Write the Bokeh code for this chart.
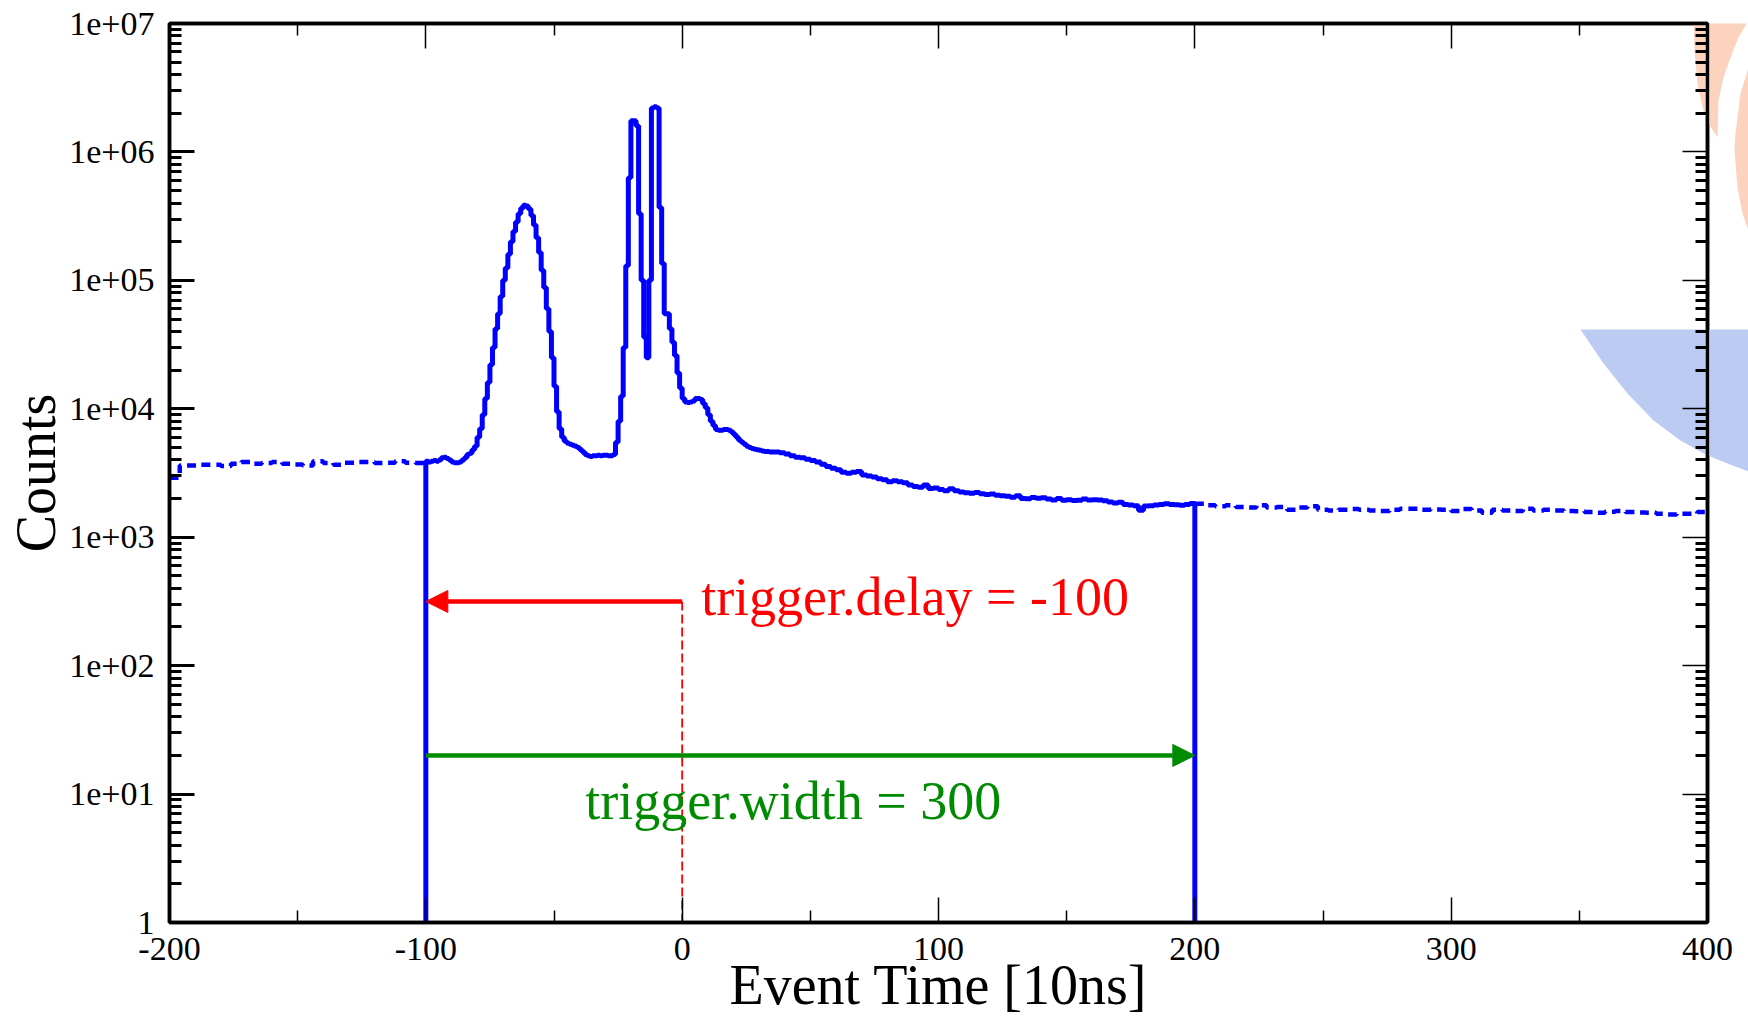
from bokeh.plotting import figure
from bokeh.layouts import row
from bokeh.models import (Range1d, FixedTicker, Arrow, NormalHead, Label,
                          PolyAnnotation, LinearAxis, LogAxis, CustomJSTickFormatter)
from bokeh.embed import file_html
from bokeh.resources import INLINE

# ---------------- data ----------------
x_tick_values = [-200, -100, 0, 100, 200, 300, 400]
x_tick_labels = ["-200", "-100", "0", "100", "200", "300", "400"]
y_tick_values = [1, 10, 100, 1000, 10000, 100000, 1000000, 10000000]
y_tick_labels = ["1", "1e+01", "1e+02", "1e+03", "1e+04", "1e+05", "1e+06", "1e+07"]

# dashed part before the trigger window: bins of 4 starting at -200
left_start, left_width = -200, 4
counts_left = [2900, 3625, 3625, 3670, 3670, 3580, 3733, 3845, 3733, 3780,
               3845, 3733, 3690, 3625, 3900, 3780, 3670, 3800, 3845, 3845,
               3780, 3800, 3900, 3800, 3780]

# solid part inside the window: bins of 1 from -100 to 36
core_start, core_width = -100, 1
counts_core = [3900, 3850, 3900, 3950, 3900, 4000, 4150, 4200, 4100, 4000,
               3850, 3800, 3800, 3850, 4000, 4150, 4400, 4500, 4800, 5100,
               6000, 7000, 9000, 12000, 16000, 22000, 30000, 42000, 55000, 75000,
               100000, 125000, 160000, 200000, 240000, 285000, 330000, 365000, 385000, 380000,
               360000, 320000, 270000, 215000, 165000, 120000, 88000, 60000, 40000, 25000,
               15000, 9500, 7000, 6000, 5600, 5400, 5300, 5200, 5100, 5000,
               4800, 4600, 4400, 4300, 4250, 4300, 4300, 4350, 4300, 4350,
               4350, 4300, 4300, 4400, 5500, 8000, 12500, 30000, 130000, 630000,
               1750000, 1750000, 1600000, 330000, 100000, 36000, 25000, 100000, 2200000, 2250000,
               2200000, 370000, 135000, 55000, 55000, 42000, 33000, 26000, 19000, 14500,
               12000, 11300, 11200, 11300, 11500, 12000, 12000, 11800, 11000, 10200,
               9000, 8000, 7400, 6900, 6800, 6800, 6900, 6900, 6800, 6600,
               6300, 6000, 5700, 5500, 5300, 5100, 5000, 4900, 4850, 4800,
               4750, 4700, 4650, 4650, 4600, 4600]

# solid tail inside the window: bins of 2 from 36 to 200
tail_start, tail_width = 36, 2
counts_tail = [4600, 4550, 4450, 4300, 4200, 4150, 4050, 3950, 3850, 3700,
               3550, 3450, 3350, 3200, 3150, 3200, 3250, 3050, 3000, 2950,
               2850, 2800, 2700, 2750, 2700, 2650, 2550, 2480, 2450, 2550,
               2400, 2420, 2350, 2300, 2380, 2300, 2250, 2220, 2200, 2230,
               2180, 2150, 2170, 2120, 2100, 2080, 2050, 2100, 2000, 1990,
               2040, 2010, 2030, 1980, 1950, 2000, 1940, 1960, 1930, 1940,
               1980, 1950, 1960, 1950, 1920, 1880, 1850, 1870, 1800, 1780,
               1760, 1620, 1750, 1760, 1780, 1800, 1820, 1800, 1790, 1770,
               1800, 1830]

# dashed part after the window: bins of 4 from 200 to 400
right_start, right_width = 200, 4
counts_right = [1820, 1770, 1740, 1770, 1716, 1700, 1770, 1700, 1716, 1637,
                1700, 1740, 1637, 1618, 1637, 1655, 1637, 1618, 1597, 1637,
                1667, 1667, 1637, 1645, 1637, 1597, 1655, 1618, 1553, 1637,
                1618, 1597, 1667, 1618, 1637, 1618, 1597, 1590, 1570, 1553,
                1580, 1597, 1570, 1560, 1553, 1524, 1506, 1524, 1524, 1570]

trigger_delay = -100
trigger_width = 300
delay_arrow_y = 316
width_arrow_y = 20
y_floor = 1

# ---------------- helpers ----------------
def step_path(start, width, counts):
    xs, ys = [], []
    for i, c in enumerate(counts):
        x0 = start + i * width
        xs += [x0, x0 + width]
        ys += [c, c]
    return xs, ys

lx, ly = step_path(left_start, left_width, counts_left)
cx, cy = step_path(core_start, core_width, counts_core)
tx, ty = step_path(tail_start, tail_width, counts_tail)
rx, ry = step_path(right_start, right_width, counts_right)
win_start = trigger_delay
win_end = trigger_delay + trigger_width
sx = [win_start] + cx + tx + [win_end]
sy = [y_floor] + cy + ty + [y_floor]

FONT = "Liberation Serif"
BLUE = "#0000ff"
RED = "#ff0000"
GREEN = "#008b00"
ORANGE_BG = "#fcd3be"
BLUE_BG = "#bccbf2"

PAGE_W = 1748
FRAME_RIGHT = 1707
STRIP_X0 = 1709
FRAME_TOP, FRAME_BOTTOM = 23, 922
p = figure(width=PAGE_W, height=1018,
           x_range=Range1d(-200, 400), y_range=Range1d(1, 1e7),
           y_axis_type="log", output_backend="svg", toolbar_location=None,
           min_border_left=169, min_border_right=PAGE_W - FRAME_RIGHT,
           min_border_top=FRAME_TOP, min_border_bottom=1018 - FRAME_BOTTOM)
p.background_fill_color = "white"
p.border_fill_color = "white"
p.outline_line_color = "black"
p.outline_line_width = 3.5
p.xgrid.visible = False
p.ygrid.visible = False

# decorative logo pieces (page pixels)
logo_shapes = [
    ([(1695, 0), (1693, 17), (1694, 50), (1697, 83), (1702, 107), (1708, 123), (1717, 137),
      (1718, 100), (1723, 77), (1730, 57), (1738, 37), (1748, 20), (1748, 0)], ORANGE_BG),
    ([(1748, 67), (1740, 93), (1735, 133), (1734, 150), (1737, 187), (1742, 213),
      (1748, 230)], ORANGE_BG),
    ([(1580, 329), (1603, 363), (1627, 393), (1653, 420), (1680, 440), (1707, 455),
      (1727, 463), (1748, 471), (1748, 329)], BLUE_BG),
]
for pts, col in logo_shapes:
    p.add_layout(PolyAnnotation(xs=[q[0] for q in pts], ys=[q[1] for q in pts],
                                xs_units="canvas", ys_units="canvas",
                                fill_color=col, fill_alpha=1.0, line_alpha=0,
                                level="underlay"))

xt = FixedTicker(ticks=x_tick_values,
                 minor_ticks=[(a + b) / 2 for a, b in zip(x_tick_values[:-1], x_tick_values[1:])])
yt = FixedTicker(ticks=y_tick_values,
                 minor_ticks=[k * t for t in y_tick_values[:-1] for k in range(2, 10)])

def style_axis(ax, major_w, minor_w, labels=True):
    ax.axis_line_width = 3.5
    ax.axis_line_color = "black"
    ax.major_tick_in = 25
    ax.major_tick_out = 0
    ax.minor_tick_in = 12
    ax.minor_tick_out = 0
    ax.major_tick_line_width = major_w
    ax.minor_tick_line_width = minor_w
    ax.major_tick_line_color = "black"
    ax.minor_tick_line_color = "black"
    ax.major_label_text_font = FONT
    ax.major_label_text_font_size = "34px"
    ax.major_label_text_color = "black"
    if not labels:
        ax.formatter = CustomJSTickFormatter(code="return ''")
        ax.major_label_standoff = 0
        ax.major_label_text_font_size = "10px"

xb = p.xaxis[0]
xb.ticker = xt
style_axis(xb, 1.5, 1.5)
xb.major_label_standoff = 15
xb.major_label_overrides = dict(zip(x_tick_values, x_tick_labels))
xb.axis_label = "Event Time [10ns]"
xb.axis_label_text_font = FONT
xb.axis_label_text_font_size = "56px"
xb.axis_label_text_font_style = "normal"
xb.axis_label_text_color = "black"
xb.axis_label_standoff = -9

yl = p.yaxis[0]
yl.ticker = yt
style_axis(yl, 3, 3)
yl.major_label_standoff = 15
yl.major_label_overrides = dict(zip(y_tick_values, y_tick_labels))
yl.axis_label = "Counts"
yl.axis_label_text_font = FONT
yl.axis_label_text_font_size = "56px"
yl.axis_label_text_font_style = "normal"
yl.axis_label_text_color = "black"
yl.axis_label_standoff = -1

xa = LinearAxis(ticker=xt)
style_axis(xa, 1.5, 1.5, labels=False)
p.add_layout(xa, "above")

yr = LogAxis(ticker=yt)
style_axis(yr, 1.5, 3, labels=False)
p.add_layout(yr, "right")

# histogram
p.line(lx, ly, line_color=BLUE, line_width=4.5, line_dash="9 6")
p.line(rx, ry, line_color=BLUE, line_width=4.5, line_dash="9 6")
p.line(sx, sy, line_color=BLUE, line_width=5)

# trigger annotations
p.line([0, 0], [y_floor, delay_arrow_y], line_color=RED, line_width=1.8, line_dash="9 4")
p.add_layout(Arrow(end=NormalHead(size=22, fill_color=RED, line_color=RED, line_width=1),
                   x_start=0, y_start=delay_arrow_y, x_end=win_start, y_end=delay_arrow_y,
                   line_color=RED, line_width=4.5))
p.add_layout(Arrow(end=NormalHead(size=22, fill_color=GREEN, line_color=GREEN, line_width=1),
                   x_start=win_start, y_start=width_arrow_y, x_end=win_end, y_end=width_arrow_y,
                   line_color=GREEN, line_width=4.5))
p.add_layout(Label(x=7.4, y=340, text="trigger.delay = %d" % trigger_delay,
                   text_font=FONT, text_font_size="54px", text_color=RED,
                   text_align="left", text_baseline="alphabetic"))
p.add_layout(Label(x=-37.8, y=8.9, text="trigger.width = %d" % trigger_width,
                   text_font=FONT, text_font_size="54px", text_color=GREEN,
                   text_align="left", text_baseline="alphabetic"))

# transparent strip laid over the right margin of the plot, carrying the
# logo pieces that lie outside the frame (its frame is aligned with the main frame)
strip_w = PAGE_W - STRIP_X0
strip = figure(width=strip_w, height=1018,
               x_range=Range1d(STRIP_X0, PAGE_W), y_range=Range1d(FRAME_BOTTOM, FRAME_TOP),
               output_backend="svg", toolbar_location=None,
               x_axis_location=None, y_axis_location=None,
               min_border=0, min_border_left=0, min_border_right=0,
               min_border_top=0, min_border_bottom=0)
strip.outline_line_color = None
strip.background_fill_color = None
strip.border_fill_color = None
strip.xgrid.visible = False
strip.ygrid.visible = False
strip.margin = (0, 0, 0, -strip_w)
strip.patches([[q[0] for q in pts] for pts, _ in logo_shapes],
              [[q[1] for q in pts] for pts, _ in logo_shapes],
              fill_color=[c for _, c in logo_shapes], line_color=None)

layout = row(p, strip, spacing=0)
open("out.html", "w").write(file_html(layout, INLINE))
